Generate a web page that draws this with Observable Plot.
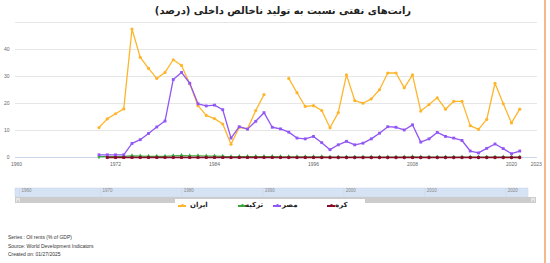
<!DOCTYPE html>
<html><head><meta charset="utf-8">
<script src="https://cdn.jsdelivr.net/npm/d3@7"></script>
<script src="https://cdn.jsdelivr.net/npm/@observablehq/plot@0.6"></script>
<style>
body{margin:0;width:550px;height:263px;overflow:hidden;background:#fff;font-family:"DejaVu Sans",sans-serif;position:relative}
#title{position:absolute;top:5px;left:0;width:566px;text-align:center;font-weight:bold;font-size:10px;direction:rtl;color:#222}
#chart{position:absolute;top:0;left:0}
#nav{position:absolute;top:186px;left:0}
#scroll{position:absolute;left:15px;top:197px;width:521px;height:6px;background:#cccccc}
#sbl,#sbr{position:absolute;top:197px;width:6px;height:6px;background:#e6e6e6;border:0.5px solid #ccc;box-sizing:border-box;font-size:4px;line-height:5px;text-align:center;color:#666}
#sbl{left:15px}#sbr{left:530px}
#legend{position:absolute;left:175px;top:199px;width:190px;height:14px;background:#fff}
.item{position:absolute;top:2px;font-weight:bold;font-size:7px;color:#222;white-space:nowrap}
.mk{position:absolute;top:6px;height:1.5px;width:8px}
.mk i{position:absolute;left:2.5px;top:-1.25px;width:3px;height:3px;border-radius:50%;background:inherit}
#caption{position:absolute;left:8px;top:233px;font-family:"Liberation Sans",Arial,sans-serif;font-size:5px;color:#333;line-height:8.5px}
#border{position:absolute;left:544px;top:0;width:2px;height:263px;background:#f6b98a}
</style></head>
<body>
<div id="title">رانت‌های نفتی نسبت به تولید ناخالص داخلی (درصد)</div>
<div id="chart"></div>
<div id="nav"></div>
<div id="scroll"></div><div id="sbl">‹</div><div id="sbr">›</div>
<div id="legend"></div>
<div id="caption"></div>
<div id="border"></div>
<script>
const years = [1970,1971,1972,1973,1974,1975,1976,1977,1978,1979,
  1980,1981,1982,1983,1984,1985,1986,1987,1988,1989,
  1990,1991,1992,1993,1994,1995,1996,1997,1998,1999,
  2000,2001,2002,2003,2004,2005,2006,2007,2008,2009,
  2010,2011,2012,2013,2014,2015,2016,2017,2018,2019,
  2020,2021];
const iran = [11.1,14.3,16.2,18.0,47.6,37.1,33.0,29.3,31.5,36.2,
  34.1,27.3,19.2,15.6,14.4,12.4,4.9,11.2,10.6,17.4,
  23.3,null,null,29.3,24.0,18.9,19.2,17.4,11.0,16.6,
  30.6,21.1,20.1,21.7,25.1,31.3,31.3,25.8,30.6,17.2,
  19.6,22.1,17.9,20.8,20.8,11.8,10.4,14.1,27.5,19.9,
  12.8,17.9];
const egypt = [1.0,1.0,1.0,1.0,5.2,6.6,8.9,11.3,13.5,28.9,
  31.5,27.5,19.9,19.1,19.4,17.7,7.2,11.4,10.5,13.4,
  16.6,11.2,10.6,9.4,7.2,6.9,7.8,5.5,2.9,4.7,
  6.0,4.7,5.3,6.9,9.0,11.4,11.2,10.2,12.1,5.7,
  6.9,9.3,7.8,7.2,6.3,2.4,1.7,3.4,5.0,3.3,
  1.4,2.4];
const turkey = [0.3,0.3,0.3,0.4,0.6,0.5,0.4,0.4,0.4,0.6,
  0.7,0.6,0.6,0.5,0.5,0.4,0.2,0.3,0.3,0.3,
  0.3,0.3,0.2,0.2,0.2,0.2,0.2,0.2,0.1,0.1,
  0.1,0.1,0.1,0.1,0.1,0.1,0.1,0.1,0.2,0.1,
  0.1,0.1,0.1,0.1,0.1,0.1,0.1,0.1,0.1,0.1,
  0.1,0.1];
const korea = [null,0,0,0,0,0,0,0,0,0,
  0,0,0,0,0,0,0,0,0,0,
  0,0,0,0,0,0,0,0,0,0,
  0,0,0,0,0,0,0,0,0,0,
  0,0,0,0,0,0,0,0,0,0,
  0,0];
const seriesNames = ["ایران","ترکیه","مصر","کره"];
const seriesColors = ["#ffb52b","#3aa63a","#9156f5","#8b0a2c"];
const seriesSymbols = ["circle","diamond","square","square"];
const seriesValues = [iran, turkey, egypt, korea];
const xTicks = [1960,1972,1984,1996,2008,2020,2023];
const yTicks = [0,10,20,30,40];
const gridVals = [10,20,30,40,50];
const navTicks = [1960,1970,1980,1990,2000,2010,2020];
const captionLines = ["Series : Oil rents (% of GDP)","Source: World Development Indicators","Created on: 01/27/2025"];

const rows = [];
seriesValues.forEach((arr, s) => {
  arr.forEach((v, i) => rows.push({year: years[i], value: v, country: seriesNames[s]}));
});

const marks = [
  Plot.ruleY(gridVals, {stroke:"#e6e6e6", strokeWidth:1}),
  Plot.ruleY([0], {stroke:"#ccd6eb", strokeWidth:1}),
  Plot.axisY({ticks: yTicks, tickSize:0, tickPadding:6, fill:"#666", fontSize:5, label:null}),
  Plot.axisX({ticks: xTicks, tickSize:0, tickPadding:5, tickFormat: d => String(d), fill:"#666", fontSize:5, label:null})
];
seriesNames.forEach((name, s) => {
  const d = rows.filter(r => r.country === name);
  marks.push(Plot.line(d, {x:"year", y:"value", stroke: seriesColors[s], strokeWidth:1.3}));
  marks.push(Plot.dot(d.filter(r => r.value != null), {x:"year", y:"value", fill: seriesColors[s], symbol: seriesSymbols[s], r:1.6}));
});

const chart = Plot.plot({
  width: 550, height: 175,
  marginLeft: 15, marginRight: 13, marginTop: 22, marginBottom: 18,
  x: {domain:[1960,2023], range:[16,535.75], axis:null, label:null},
  y: {domain:[0,50], range:[157,22], axis:null, label:null},
  style: {background:"transparent", overflow:"visible", fontFamily:"Liberation Sans, Arial, sans-serif"},
  marks
});
document.getElementById("chart").appendChild(chart);

const nav = Plot.plot({
  width: 550, height: 12,
  marginLeft: 15, marginRight: 22, marginTop: 2, marginBottom: 1,
  x: {domain:[1959.5,2022.8], range:[15,528], axis:null},
  y: {domain:[0,1], range:[11,2], axis:null},
  style: {background:"transparent", overflow:"visible", fontFamily:"Liberation Sans, Arial, sans-serif"},
  marks: [
    Plot.rect([{a:1959.5,b:2022.8}], {x1:"a", x2:"b", y1:0, y2:1, fill:"#d6e3f4", stroke:"#c8d4e6", strokeWidth:0.5}),
    Plot.ruleX(navTicks, {y1:0, y2:1, stroke:"#c9d6ea", strokeWidth:0.5}),
    Plot.text(navTicks, {x: d => d, y: 0.75, text: d => String(d), dx: 2, textAnchor:"start", fill:"#888", fontSize:4.5})
  ]
});
document.getElementById("nav").appendChild(nav);

const legend = document.getElementById("legend");
const itemPos = [[3,15],[63,70],[98,107],[152,160]];
seriesNames.forEach((name, s) => {
  const mk = document.createElement("div");
  mk.className = "mk"; mk.style.left = itemPos[s][0] + "px"; mk.style.background = seriesColors[s];
  mk.appendChild(document.createElement("i"));
  legend.appendChild(mk);
  const t = document.createElement("div");
  t.className = "item"; t.style.left = itemPos[s][1] + "px"; t.textContent = name;
  legend.appendChild(t);
});
document.getElementById("caption").innerHTML = captionLines.join("<br>");
</script>
</body></html>
